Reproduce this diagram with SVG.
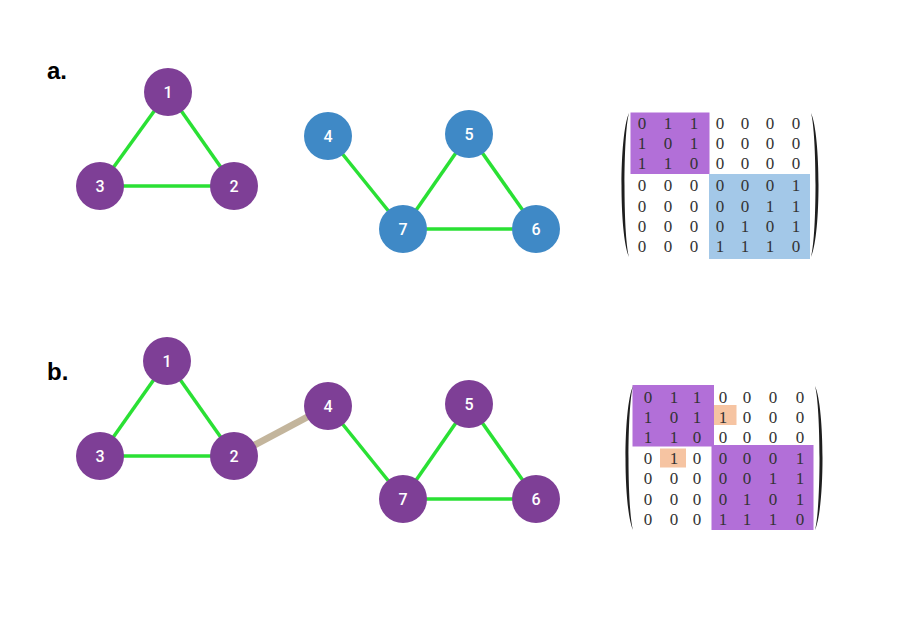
<svg xmlns="http://www.w3.org/2000/svg" width="900" height="626" viewBox="0 0 900 626">
<style>
.edge{stroke:#2ae034;stroke-width:3.5;fill:none}
.bridge{stroke:#c3b59c;stroke-width:7;fill:none}
.np{fill:#7e3f96}
.nb{fill:#3f89c6}
.nl{font-family:Roboto,"DejaVu Sans",sans-serif;font-size:16px;font-weight:500;fill:#ffffff;text-anchor:middle;dominant-baseline:central}
.lab{font-family:"Liberation Sans",Arial,sans-serif;font-size:24px;font-weight:bold;fill:#000}
.m{font-family:"Liberation Serif","Times New Roman",serif;font-size:17px;fill:#333333;text-anchor:middle;dominant-baseline:central}
.paren{fill:#1e1e1e}
</style>
<rect width="900" height="626" fill="#ffffff"/>
<text class="lab" x="47" y="79">a.</text>
<text class="lab" x="47" y="380">b.</text>
<g id="connectors">
<line class="edge" x1="168" y1="92" x2="100" y2="186"/>
<line class="edge" x1="168" y1="92" x2="234" y2="186"/>
<line class="edge" x1="100" y1="186" x2="234" y2="186"/>
<line class="edge" x1="328" y1="136" x2="403" y2="229"/>
<line class="edge" x1="469" y1="134" x2="403" y2="229"/>
<line class="edge" x1="469" y1="134" x2="536" y2="229"/>
<line class="edge" x1="403" y1="229" x2="536" y2="229"/>
<line class="edge" x1="167" y1="361" x2="100" y2="456"/>
<line class="edge" x1="167" y1="361" x2="234" y2="456"/>
<line class="edge" x1="100" y1="456" x2="234" y2="456"/>
<line class="bridge" x1="234" y1="456" x2="328" y2="406"/>
<line class="edge" x1="328" y1="406" x2="403" y2="499"/>
<line class="edge" x1="469" y1="404" x2="403" y2="499"/>
<line class="edge" x1="469" y1="404" x2="536" y2="499"/>
<line class="edge" x1="403" y1="499" x2="536" y2="499"/>
</g>
<g id="a-node1"><circle class="np" cx="168" cy="92" r="24"/><text class="nl" x="168" y="92">1</text></g>
<g id="a-node2"><circle class="np" cx="234" cy="186" r="24"/><text class="nl" x="234" y="186">2</text></g>
<g id="a-node3"><circle class="np" cx="100" cy="186" r="24"/><text class="nl" x="100" y="186">3</text></g>
<g id="a-node4"><circle class="nb" cx="328" cy="136" r="24"/><text class="nl" x="328" y="136">4</text></g>
<g id="a-node5"><circle class="nb" cx="469" cy="134" r="24"/><text class="nl" x="469" y="134">5</text></g>
<g id="a-node6"><circle class="nb" cx="536" cy="229" r="24"/><text class="nl" x="536" y="229">6</text></g>
<g id="a-node7"><circle class="nb" cx="403" cy="229" r="24"/><text class="nl" x="403" y="229">7</text></g>
<g id="b-node1"><circle class="np" cx="167" cy="361" r="24"/><text class="nl" x="167" y="361">1</text></g>
<g id="b-node2"><circle class="np" cx="234" cy="456" r="24"/><text class="nl" x="234" y="456">2</text></g>
<g id="b-node3"><circle class="np" cx="100" cy="456" r="24"/><text class="nl" x="100" y="456">3</text></g>
<g id="b-node4"><circle class="np" cx="328" cy="406" r="24"/><text class="nl" x="328" y="406">4</text></g>
<g id="b-node5"><circle class="np" cx="469" cy="404" r="24"/><text class="nl" x="469" y="404">5</text></g>
<g id="b-node6"><circle class="np" cx="536" cy="499" r="24"/><text class="nl" x="536" y="499">6</text></g>
<g id="b-node7"><circle class="np" cx="403" cy="499" r="24"/><text class="nl" x="403" y="499">7</text></g>
<g id="matrix-a">
<rect x="630.5" y="112.5" width="79" height="61.5" fill="#b26fd8"/>
<rect x="709" y="174" width="101" height="85" fill="#a3c8e8"/>
<path class="paren" d="M629,113 C619,135 619,235 629,257 C623,235 623,135 629,113 Z"/>
<path class="paren" d="M811,113 C821,135 821,235 811,257 C817,235 817,135 811,113 Z"/>
<g>
<text class="m" x="642" y="123">0</text><text class="m" x="668" y="123">1</text><text class="m" x="694" y="123">1</text><text class="m" x="720" y="123">0</text><text class="m" x="745" y="123">0</text><text class="m" x="770" y="123">0</text><text class="m" x="796" y="123">0</text>
<text class="m" x="642" y="143">1</text><text class="m" x="668" y="143">0</text><text class="m" x="694" y="143">1</text><text class="m" x="720" y="143">0</text><text class="m" x="745" y="143">0</text><text class="m" x="770" y="143">0</text><text class="m" x="796" y="143">0</text>
<text class="m" x="642" y="163.5">1</text><text class="m" x="668" y="163.5">1</text><text class="m" x="694" y="163.5">0</text><text class="m" x="720" y="163.5">0</text><text class="m" x="745" y="163.5">0</text><text class="m" x="770" y="163.5">0</text><text class="m" x="796" y="163.5">0</text>
<text class="m" x="642" y="185">0</text><text class="m" x="668" y="185">0</text><text class="m" x="694" y="185">0</text><text class="m" x="720" y="185">0</text><text class="m" x="745" y="185">0</text><text class="m" x="770" y="185">0</text><text class="m" x="796" y="185">1</text>
<text class="m" x="642" y="206">0</text><text class="m" x="668" y="206">0</text><text class="m" x="694" y="206">0</text><text class="m" x="720" y="206">0</text><text class="m" x="745" y="206">0</text><text class="m" x="770" y="206">1</text><text class="m" x="796" y="206">1</text>
<text class="m" x="642" y="226.5">0</text><text class="m" x="668" y="226.5">0</text><text class="m" x="694" y="226.5">0</text><text class="m" x="720" y="226.5">0</text><text class="m" x="745" y="226.5">1</text><text class="m" x="770" y="226.5">0</text><text class="m" x="796" y="226.5">1</text>
<text class="m" x="642" y="246.5">0</text><text class="m" x="668" y="246.5">0</text><text class="m" x="694" y="246.5">0</text><text class="m" x="720" y="246.5">1</text><text class="m" x="745" y="246.5">1</text><text class="m" x="770" y="246.5">1</text><text class="m" x="796" y="246.5">0</text>
</g>
</g>
<g id="matrix-b">
<rect x="632.5" y="385" width="81.5" height="61.5" fill="#b26fd8"/>
<rect x="711.5" y="445" width="102" height="85" fill="#b26fd8"/>
<rect x="714" y="405" width="22.5" height="20" fill="#f6c4a2"/>
<rect x="660" y="448.5" width="26" height="19" fill="#f6c4a2"/>
<path class="paren" d="M633,386 C623,408 623,508 633,530 C627,508 627,408 633,386 Z"/>
<path class="paren" d="M815,386 C825,408 825,508 815,530 C821,508 821,408 815,386 Z"/>
<g>
<text class="m" x="648" y="397">0</text><text class="m" x="674" y="397">1</text><text class="m" x="697" y="397">1</text><text class="m" x="723" y="397">0</text><text class="m" x="747" y="397">0</text><text class="m" x="773" y="397">0</text><text class="m" x="800" y="397">0</text>
<text class="m" x="648" y="417">1</text><text class="m" x="674" y="417">0</text><text class="m" x="697" y="417">1</text><text class="m" x="723" y="417">1</text><text class="m" x="747" y="417">0</text><text class="m" x="773" y="417">0</text><text class="m" x="800" y="417">0</text>
<text class="m" x="648" y="437">1</text><text class="m" x="674" y="437">1</text><text class="m" x="697" y="437">0</text><text class="m" x="723" y="437">0</text><text class="m" x="747" y="437">0</text><text class="m" x="773" y="437">0</text><text class="m" x="800" y="437">0</text>
<text class="m" x="648" y="458">0</text><text class="m" x="674" y="458">1</text><text class="m" x="697" y="458">0</text><text class="m" x="723" y="458">0</text><text class="m" x="747" y="458">0</text><text class="m" x="773" y="458">0</text><text class="m" x="800" y="458">1</text>
<text class="m" x="648" y="478.5">0</text><text class="m" x="674" y="478.5">0</text><text class="m" x="697" y="478.5">0</text><text class="m" x="723" y="478.5">0</text><text class="m" x="747" y="478.5">0</text><text class="m" x="773" y="478.5">1</text><text class="m" x="800" y="478.5">1</text>
<text class="m" x="648" y="499">0</text><text class="m" x="674" y="499">0</text><text class="m" x="697" y="499">0</text><text class="m" x="723" y="499">0</text><text class="m" x="747" y="499">1</text><text class="m" x="773" y="499">0</text><text class="m" x="800" y="499">1</text>
<text class="m" x="648" y="519">0</text><text class="m" x="674" y="519">0</text><text class="m" x="697" y="519">0</text><text class="m" x="723" y="519">1</text><text class="m" x="747" y="519">1</text><text class="m" x="773" y="519">1</text><text class="m" x="800" y="519">0</text>
</g>
</g>
</svg>
